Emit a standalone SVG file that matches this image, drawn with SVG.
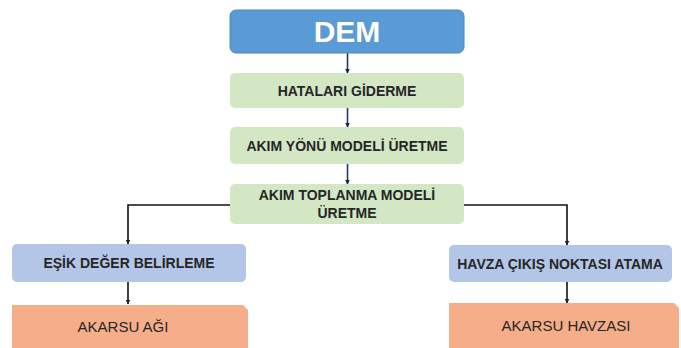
<svg xmlns="http://www.w3.org/2000/svg" width="681" height="348" viewBox="0 0 681 348">
<defs>
<style>
.t{font-family:"Liberation Sans",Arial,sans-serif;font-weight:bold;font-size:14px;fill:#262626;text-anchor:middle}
.o{font-family:"Liberation Sans",Arial,sans-serif;font-size:15px;fill:#262626;text-anchor:middle}
.green{fill:#d3e7c5}
.lblue{fill:#b4c6e7}
.orange{fill:#f5ad8a}
.ln{fill:none;stroke:#111;stroke-width:1.6}
.ln2{fill:none;stroke:#1f3864;stroke-width:1.6}
</style>
<marker id="ah" viewBox="0 0 10 10" refX="9" refY="5" markerWidth="5" markerHeight="5" orient="auto" markerUnits="userSpaceOnUse">
<path d="M0,0 L10,5 L0,10 Z" fill="#1f1f3f"/>
</marker>
</defs>
<rect width="681" height="348" fill="#ffffff"/>
<g id="connectors">
<line class="ln2" x1="347.5" y1="53" x2="347.5" y2="73" marker-end="url(#ah)"/>
<line class="ln2" x1="347.5" y1="108" x2="347.5" y2="127" marker-end="url(#ah)"/>
<line class="ln2" x1="347.5" y1="164" x2="347.5" y2="184" marker-end="url(#ah)"/>
<polyline class="ln" points="230,205 128,205 128,244" marker-end="url(#ah)"/>
<polyline class="ln" points="464,205 567,205 567,245" marker-end="url(#ah)"/>
<line class="ln" x1="128" y1="282" x2="128" y2="304" marker-end="url(#ah)"/>
<line class="ln" x1="567" y1="282" x2="567" y2="303" marker-end="url(#ah)"/>
</g>
<g id="dem">
<rect x="230" y="10" width="234" height="43" rx="6" fill="#5b9bd5" stroke="#4a86c0" stroke-width="1"/>
<text x="347" y="42" font-family="'Liberation Sans',Arial,sans-serif" font-weight="bold" font-size="30" fill="#ffffff" text-anchor="middle">DEM</text>
</g>
<g id="hatalari">
<rect class="green" x="230" y="73" width="234" height="35" rx="5"/>
<text class="t" x="347" y="95.5">HATALARI GİDERME</text>
</g>
<g id="akimyonu">
<rect class="green" x="230" y="127" width="234" height="37" rx="5"/>
<text class="t" x="347" y="150.5">AKIM YÖNÜ MODELİ ÜRETME</text>
</g>
<g id="akimtoplanma">
<rect class="green" x="230" y="184" width="234" height="40" rx="5"/>
<text class="t" x="347" y="200">AKIM TOPLANMA MODELİ</text>
<text class="t" x="347" y="218">ÜRETME</text>
</g>
<g id="esik">
<rect class="lblue" x="12" y="244" width="234" height="38" rx="5"/>
<text class="t" x="129" y="268">EŞİK DEĞER BELİRLEME</text>
</g>
<g id="havza">
<rect class="lblue" x="449" y="245" width="223" height="37" rx="5"/>
<text class="t" x="560" y="268.5">HAVZA ÇIKIŞ NOKTASI ATAMA</text>
</g>
<g id="akarsuagi">
<path class="orange" d="M12,305 H243 L248,310 V348 H12 Z"/>
<text class="o" x="123" y="332">AKARSU AĞI</text>
</g>
<g id="akarsuhavzasi">
<path class="orange" d="M449,303 H674 L679,308 V348 H449 Z"/>
<text class="o" x="566" y="331">AKARSU HAVZASI</text>
</g>
</svg>
